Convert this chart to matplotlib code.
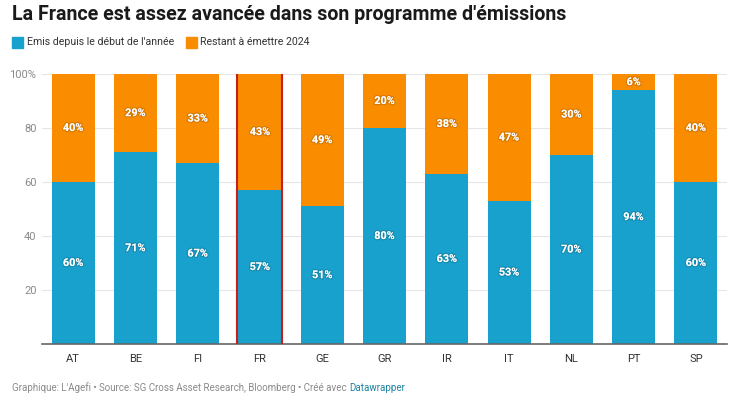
import matplotlib.pyplot as plt
import matplotlib.patheffects as pe

'''Data'''
pays = ['AT', 'BE', 'FI', 'FR', 'GE', 'GR', 'IR', 'IT', 'NL', 'PT', 'SP']
emis = [60, 71, 67, 57, 51, 80, 63, 53, 70, 94, 60]          # Emis depuis le début de l'année (%)
restant = [40, 29, 33, 43, 49, 20, 38, 47, 30, 6, 40]        # Restant à émettre 2024 (%)
yticks = [20, 40, 60, 80, 100]
ytick_labels = ['20', '40', '60', '80', '100%']

'''Style'''
plt.rcParams['font.family'] = ['Roboto', 'DejaVu Sans']
bleu = '#18a1cd'
orange = '#fa8c00'
rouge = '#c71e1d'
gris = '#8a8a8a'

fig = plt.figure(figsize=(7.33, 3.94), dpi=100)
ax = fig.add_axes([42/733, 1-344/394, 685/733, 270/394])

x = range(len(pays))
w = 0.69
ax.bar(x, emis, width=w, color=bleu, zorder=2)
ax.bar(x, restant, width=w, bottom=emis, color=orange, zorder=2)

'''Labels in the bars'''
shadow = [pe.withStroke(linewidth=1.8, foreground=(0, 0, 0, 0.13))]
for i in x:
    ax.text(i, emis[i]/2, f'{emis[i]}%', ha='center', va='center', color='white',
            fontsize=7.8, fontweight='bold', path_effects=shadow, zorder=4)
    top = min(emis[i] + restant[i], 100)
    ax.text(i, (emis[i] + top)/2, f'{restant[i]}%', ha='center', va='center', color='white',
            fontsize=7.8, fontweight='bold', path_effects=shadow, zorder=4)

'''Highlight FR'''
fr = pays.index('FR')
ax.axvline(fr - 0.375, color=rouge, lw=1.5, zorder=3)
ax.axvline(fr + 0.35, color=rouge, lw=1.5, zorder=3)

'''Axes'''
ax.set_xlim(-0.5, len(pays) - 0.5)
ax.set_ylim(0, 100)
ax.set_yticks(yticks)
ax.set_yticklabels(ytick_labels)
ax.set_xticks(list(x))
ax.set_xticklabels(pays)
ax.grid(axis='y', color='#e6e6e6', lw=0.8, zorder=0)
for s in ['top', 'right', 'left']:
    ax.spines[s].set_visible(False)
ax.spines['bottom'].set_color('#666666')
ax.spines['bottom'].set_linewidth(1.2)
ax.tick_params(axis='y', length=0, colors=gris, labelsize=8, pad=4)
ax.tick_params(axis='x', length=0, colors='#333333', labelsize=8, pad=7)

'''Title, legend, footer'''
fig.text(12/733, 1-14/394, "La France est assez avancée dans son programme d'émissions",
         fontsize=14.1, fontweight='bold', color='#1a1a1a', va='center')
fig.patches.append(plt.Rectangle((12/733, 1-48/394), 11/733, 11/394, color=bleu,
                                 transform=fig.transFigure, figure=fig))
fig.text(27/733, 1-42/394, "Emis depuis le début de l'année", fontsize=7.6, color='#333333', va='center')
fig.patches.append(plt.Rectangle((186/733, 1-48/394), 11/733, 11/394, color=orange,
                                 transform=fig.transFigure, figure=fig))
fig.text(200/733, 1-42/394, 'Restant à émettre 2024', fontsize=7.6, color='#333333', va='center')

foot = fig.text(12/733, 1-388/394, "Graphique: L'Agefi • Source: SG Cross Asset Research, Bloomberg • Créé avec ",
                fontsize=7, color=gris, va='center')
fig.canvas.draw()
bb = foot.get_window_extent().transformed(fig.transFigure.inverted())
fig.text(bb.x1, 1-388/394, 'Datawrapper', fontsize=7, color='#1d81a2', va='center')

plt.savefig('out.png', dpi=100)
